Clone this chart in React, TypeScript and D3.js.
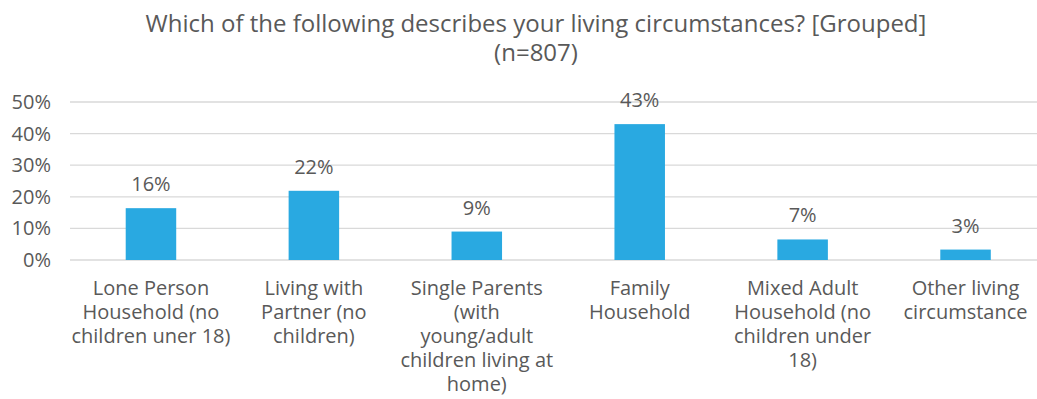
import React from "react";
import * as d3 from "d3";

const categories: string[][] = [
  ["Lone Person", "Household (no", "children uner 18)"],
  ["Living with", "Partner (no", "children)"],
  ["Single Parents", "(with", "young/adult", "children living at", "home)"],
  ["Family", "Household"],
  ["Mixed Adult", "Household (no", "children under", "18)"],
  ["Other living", "circumstance"],
];
const values: number[] = [0.164, 0.219, 0.09, 0.430, 0.065, 0.033];
const valueLabels: string[] = ["16%", "22%", "9%", "43%", "7%", "3%"];
const yTicks: number[] = [0, 0.1, 0.2, 0.3, 0.4, 0.5];
const titleLines: string[] = [
  "Which of the following describes your living circumstances? [Grouped]",
  "(n=807)",
];

const W = 1037;
const H = 399;
const FONT = "'Open Sans', 'Noto Sans', sans-serif";
const TEXT = "#595959";

export default function App() {
  const ids = categories.map((_, i) => String(i));
  const x = d3
    .scaleBand<string>()
    .domain(ids)
    .range([69.5, 1047])
    .paddingInner(0.69)
    .paddingOuter(0.345);
  const y = d3.scaleLinear().domain([0, 0.5]).range([260, 102]);
  const fmt = d3.format(".0%");

  return (
    <svg
      width={W}
      height={H}
      style={{ position: "absolute", left: 0, top: 0, background: "#fff" }}
      fontFamily={FONT}
    >
      <text x={536} y={32} textAnchor="middle" fontSize={24} fill={TEXT}>
        {titleLines.map((t, i) => (
          <tspan key={i} x={536} dy={i === 0 ? 0 : 29}>
            {t}
          </tspan>
        ))}
      </text>
      {yTicks.map((t) => (
        <g key={t}>
          <line x1={70} x2={W} y1={y(t)} y2={y(t)} stroke="#D9D9D9" strokeWidth={1.3} />
          <text x={51} y={y(t) + 7} textAnchor="end" fontSize={20} fill={TEXT}>
            {fmt(t)}
          </text>
        </g>
      ))}
      {values.map((v, i) => {
        const bx = x(ids[i])!;
        const cx = bx + x.bandwidth() / 2;
        return (
          <g key={i}>
            <rect
              x={bx}
              y={y(v)}
              width={x.bandwidth()}
              height={y(0) - y(v)}
              fill="#29A9E1"
            />
            <text x={cx} y={y(v) - 17} textAnchor="middle" fontSize={20} fill={TEXT}>
              {valueLabels[i]}
            </text>
            <text x={cx} y={295} textAnchor="middle" fontSize={20} fill={TEXT}>
              {categories[i].map((line, j) => (
                <tspan key={j} x={cx} dy={j === 0 ? 0 : 24}>
                  {line}
                </tspan>
              ))}
            </text>
          </g>
        );
      })}
    </svg>
  );
}
